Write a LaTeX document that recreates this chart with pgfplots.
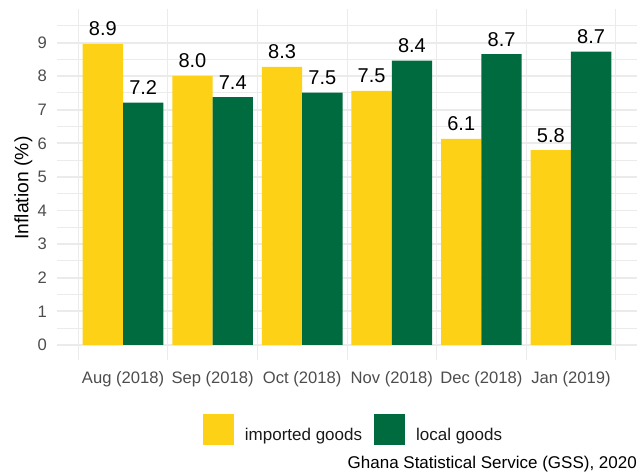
\documentclass[border=0pt]{standalone}
\usepackage{pgfplots}
\pgfplotsset{compat=1.18}
\usepackage{fontspec}
\setmainfont{Liberation Sans}

\definecolor{gold}{HTML}{FCD116}
\definecolor{ghgreen}{HTML}{006B3F}
\definecolor{gridc}{HTML}{EBEBEB}
\definecolor{tickc}{HTML}{4D4D4D}

\pgfplotsset{
  sqlegend/.style={legend image code/.code={\fill[##1] (0pt,-9.5pt) rectangle (31pt,21.5pt);}},
}

\begin{document}
\begin{tikzpicture}
\begin{axis}[
  name=ax,
  scale only axis, width=580pt, height=351pt,
  xmin=0.263, xmax=6.737, ymin=-0.45, ymax=10,
  ybar, bar width=0.45,
  xtick={1,...,6},
  xticklabels={Aug (2018),Sep (2018),Oct (2018),Nov (2018),Dec (2018),Jan (2019)},
  minor xtick={0.5,1.5,...,6.5},
  ytick={0,...,9},
  minor ytick={0.5,1.5,...,9.5},
  ymajorgrids, yminorgrids, xminorgrids,
  major grid style={gridc, line width=1.9pt},
  minor grid style={gridc, line width=1pt},
  axis line style={draw=none},
  major tick length=0pt, minor tick length=0pt,
  tick style={draw=none},
  /pgf/number format/assume math mode=true,
  xticklabel style={font=\fontsize{16.6}{19}\selectfont, text=tickc, anchor=base, inner sep=0pt, yshift=-23pt},
  yticklabel style={font=\fontsize{16.6}{19}\selectfont, text=tickc, anchor=east, inner sep=0pt, xshift=-10pt},
  ylabel={Inflation (\%)},
  ylabel style={at={(axis description cs:-0.058,0.49)}, anchor=center, font=\fontsize{19.3}{22}\selectfont},
  point meta=explicit symbolic,
  nodes near coords={\pgfplotspointmeta},
  every node near coord/.append style={font=\fontsize{20}{24}\selectfont, text=black, anchor=base, inner sep=0pt, yshift=8pt},
  legend columns=2,
  legend style={at={(axis description cs:0.5095,-0.1966)}, anchor=center, draw=none, fill=none,
    inner sep=0pt, font=\fontsize{17}{20}\selectfont, text=black!90,
    nodes={inner sep=0pt},
    /tikz/every odd column/.append style={column sep=11pt},
    /tikz/every even column/.append style={column sep=12pt}},
  clip=false,
]
\addplot[fill=gold, draw=none, bar shift=-0.225, sqlegend] coordinates {
  (1,8.96) [8.9]
  (2,8.01) [8.0]
  (3,8.28) [8.3]
  (4,7.56) [7.5]
  (5,6.13) [6.1]
  (6,5.80) [5.8]
};
\addlegendentry{imported goods}
\addplot[fill=ghgreen, draw=none, bar shift=0.225, sqlegend] coordinates {
  (1,7.21) [7.2]
  (2,7.38) [7.4]
  (3,7.51) [7.5]
  (4,8.46) [8.4]
  (5,8.66) [8.7]
  (6,8.73) [8.7]
};
\addlegendentry{local goods}
\end{axis}
\node[anchor=base east, inner sep=0pt, font=\fontsize{17}{20}\selectfont] at ([yshift=-108pt]ax.south east) {Ghana Statistical Service (GSS), 2020};
\path[use as bounding box] ([xshift=-57pt,yshift=9pt]ax.north west) rectangle ([xshift=4pt,yshift=-111pt]ax.south east);
\end{tikzpicture}
\end{document}
